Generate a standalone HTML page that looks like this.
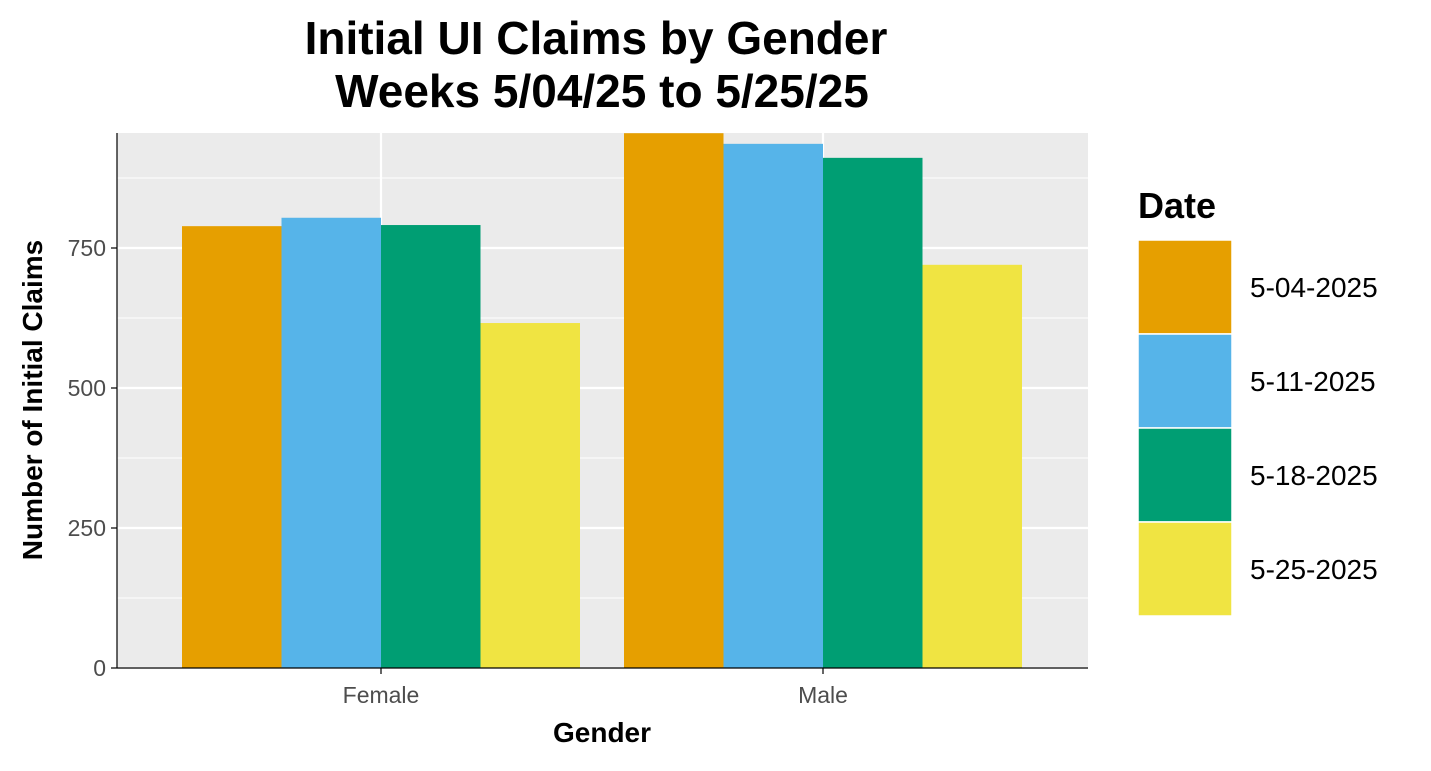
<!DOCTYPE html>
<html><head><meta charset="utf-8"><style>
body{margin:0;background:#fff;font-family:"Liberation Sans",Arial,sans-serif}
</style></head><body>
<svg id="chart" width="1431" height="766" xmlns="http://www.w3.org/2000/svg">
<rect width="1431" height="766" fill="#fff"/>
<text x="596" y="54" text-anchor="middle" font-size="46" font-weight="bold">Initial UI Claims by Gender</text>
<text x="602" y="107" text-anchor="middle" font-size="46" font-weight="bold">Weeks  5/04/25 to 5/25/25</text>
<rect x="117" y="133" width="971" height="535" fill="#EBEBEB"/>
<g id="grid"></g>
<g id="bars"></g>
<g id="axes"></g>
<text x="602" y="742" text-anchor="middle" font-size="28" font-weight="bold">Gender</text>
<text transform="translate(42,400) rotate(-90)" text-anchor="middle" font-size="28" font-weight="bold">Number of Initial Claims</text>
<text x="1138" y="218" font-size="36" font-weight="bold">Date</text>
<g id="legend"></g>
</svg>
<script>
const categories=["Female","Male"];
const seriesNames=["5-04-2025","5-11-2025","5-18-2025","5-25-2025"];
const s0504=[789,955];
const s0511=[804,936];
const s0518=[791,911];
const s0525=[616,720];
const yTicks=[0,250,500,750];
const yMinor=[125,375,625,875];
const series=[s0504,s0511,s0518,s0525];
const colors=["#E69F00","#56B4E9","#009E73","#F0E442"];
const NS="http://www.w3.org/2000/svg";
const y0=668, pxPer=420/750;
function y(v){return y0-v*pxPer;}
const catCenters=[381,823], barW=99.5;
function xc(i){return catCenters[0]+(catCenters[1]-catCenters[0])*i;}
function mk(tag,attrs,parent){const e=document.createElementNS(NS,tag);for(const k in attrs)e.setAttribute(k,attrs[k]);document.getElementById(parent).appendChild(e);return e;}
yMinor.forEach(v=>{const l=mk("line",{x1:117,x2:1088,y1:y(v),y2:y(v),stroke:"#fff","stroke-width":1},"grid");

});
yTicks.forEach(v=>{const l=mk("line",{x1:117,x2:1088,y1:y(v),y2:y(v),stroke:"#fff","stroke-width":2.2},"grid");


const t=mk("line",{x1:111,x2:117,y1:y(v),y2:y(v),stroke:"#333","stroke-width":1.5},"axes");


const tx=mk("text",{x:106,y:y(v)+8,"text-anchor":"end","font-size":23,fill:"#4D4D4D"},"axes");tx.textContent=v;

});
categories.forEach((c,i)=>{const l=mk("line",{x1:xc(i),x2:xc(i),y1:133,y2:668,stroke:"#fff","stroke-width":2.2},"grid");


const t=mk("line",{x1:xc(i),x2:xc(i),y1:668,y2:674,stroke:"#333","stroke-width":1.5},"axes");


const tx=mk("text",{x:xc(i),y:703,"text-anchor":"middle","font-size":23,fill:"#4D4D4D"},"axes");tx.textContent=c;


series.forEach((s,j)=>{const x=xc(i)-2*barW+j*barW;
const r=mk("rect",{x:x,y:Math.max(133,y(s[i])),width:barW,height:y0-Math.max(133,y(s[i])),fill:colors[j]},"bars");

});});
const ax=mk("line",{x1:117,x2:117,y1:133,y2:668,stroke:"#000","stroke-width":1.2},"axes");


const bx=mk("line",{x1:117,x2:1088,y1:668,y2:668,stroke:"#000","stroke-width":1.2},"axes");


seriesNames.forEach((n,j)=>{const top=240+j*94;
const r=mk("rect",{x:1138,y:top,width:94,height:94,fill:colors[j],stroke:"#fff","stroke-width":1.5},"legend");


const t=mk("text",{x:1250,y:top+57,"font-size":28},"legend");t.textContent=n;

});
</script>
</body></html>
